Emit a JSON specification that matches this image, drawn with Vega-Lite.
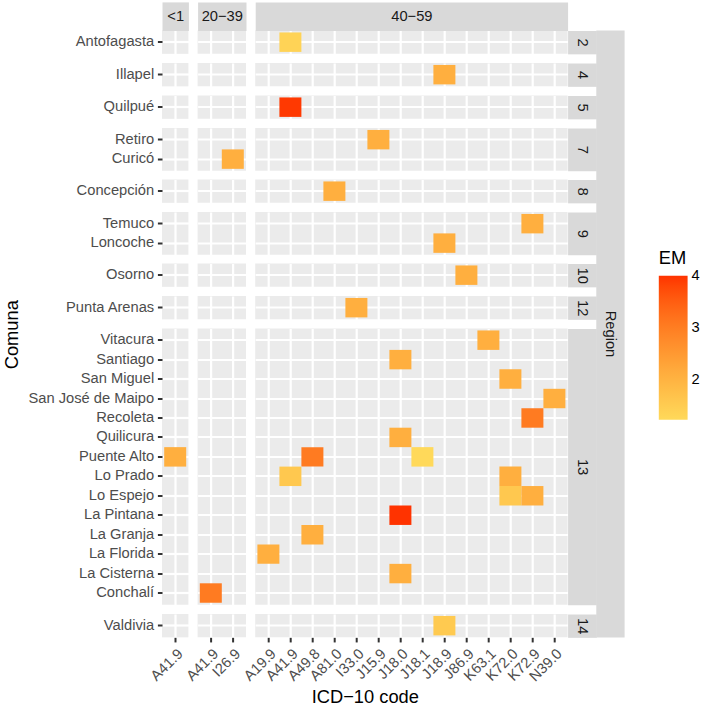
{
  "$schema": "https://vega.github.io/schema/vega-lite/v6.json",
  "padding": {"left": 2, "top": 7.5, "right": 5, "bottom": 0},
  "data": {"values": [
    {"Region": "2", "Age": "40−59", "Comuna": "Antofagasta", "Code": "A41.9", "EM": 1.38},
    {"Region": "4", "Age": "40−59", "Comuna": "Illapel", "Code": "J18.9", "EM": 2.1},
    {"Region": "5", "Age": "40−59", "Comuna": "Quilpué", "Code": "A41.9", "EM": 3.95},
    {"Region": "7", "Age": "40−59", "Comuna": "Retiro", "Code": "J15.9", "EM": 2.1},
    {"Region": "7", "Age": "20−39", "Comuna": "Curicó", "Code": "I26.9", "EM": 2.1},
    {"Region": "8", "Age": "40−59", "Comuna": "Concepción", "Code": "A81.0", "EM": 2.1},
    {"Region": "9", "Age": "40−59", "Comuna": "Temuco", "Code": "K72.9", "EM": 2.1},
    {"Region": "9", "Age": "40−59", "Comuna": "Loncoche", "Code": "J18.9", "EM": 2.1},
    {"Region": "10", "Age": "40−59", "Comuna": "Osorno", "Code": "J86.9", "EM": 2.1},
    {"Region": "12", "Age": "40−59", "Comuna": "Punta Arenas", "Code": "I33.0", "EM": 2.1},
    {"Region": "13", "Age": "40−59", "Comuna": "Vitacura", "Code": "K63.1", "EM": 2.1},
    {"Region": "13", "Age": "40−59", "Comuna": "Santiago", "Code": "J18.0", "EM": 2.1},
    {"Region": "13", "Age": "40−59", "Comuna": "San Miguel", "Code": "K72.0", "EM": 2.1},
    {"Region": "13", "Age": "40−59", "Comuna": "San José de Maipo", "Code": "N39.0", "EM": 2.1},
    {"Region": "13", "Age": "40−59", "Comuna": "Recoleta", "Code": "K72.9", "EM": 3.05},
    {"Region": "13", "Age": "40−59", "Comuna": "Quilicura", "Code": "J18.0", "EM": 2.1},
    {"Region": "13", "Age": "<1", "Comuna": "Puente Alto", "Code": "A41.9", "EM": 2.1},
    {"Region": "13", "Age": "40−59", "Comuna": "Puente Alto", "Code": "A49.8", "EM": 3.05},
    {"Region": "13", "Age": "40−59", "Comuna": "Puente Alto", "Code": "J18.1", "EM": 1.25},
    {"Region": "13", "Age": "40−59", "Comuna": "Lo Prado", "Code": "A41.9", "EM": 1.6},
    {"Region": "13", "Age": "40−59", "Comuna": "Lo Prado", "Code": "K72.0", "EM": 2.1},
    {"Region": "13", "Age": "40−59", "Comuna": "Lo Espejo", "Code": "K72.0", "EM": 1.6},
    {"Region": "13", "Age": "40−59", "Comuna": "Lo Espejo", "Code": "K72.9", "EM": 2.1},
    {"Region": "13", "Age": "40−59", "Comuna": "La Pintana", "Code": "J18.0", "EM": 4.0},
    {"Region": "13", "Age": "40−59", "Comuna": "La Granja", "Code": "A49.8", "EM": 2.1},
    {"Region": "13", "Age": "40−59", "Comuna": "La Florida", "Code": "A19.9", "EM": 2.1},
    {"Region": "13", "Age": "40−59", "Comuna": "La Cisterna", "Code": "J18.0", "EM": 2.1},
    {"Region": "13", "Age": "20−39", "Comuna": "Conchalí", "Code": "A41.9", "EM": 3.05},
    {"Region": "14", "Age": "40−59", "Comuna": "Valdivia", "Code": "J18.9", "EM": 1.55}
  ]},
  "config": {
    "font": "Liberation Sans",
    "view": {"fill": "#EBEBEB", "stroke": null},
    "axis": {"zindex": 0, "gridColor": "#FFFFFF", "gridWidth": 2.2, "gridOpacity": 1, "bandPosition": 0.5, "labelFont": "Liberation Sans", "labelFontSize": 14.7, "labelColor": "#4D4D4D", "labelPadding": 3.7, "tickSize": 4.6, "tickWidth": 2, "tickColor": "#333333", "titleFont": "Liberation Sans", "titleFontWeight": "normal"}
  },
  "spacing": 6.3,
  "hconcat": [
    {
      "bounds": "flush",
      "columns": 3,
      "align": "each",
      "spacing": {"row": 8.5, "column": 8.6},
      "concat": [
        {"transform": [{"filter": {"and": [{"field": "Region", "equal": "2"}, {"field": "Age", "equal": "<1"}]}}], "width": {"step": 22}, "height": {"step": 19.45}, "mark": "rect",
         "encoding": {"x": {"field": "Code", "type": "nominal", "scale": {"domain": ["A41.9"], "paddingInner": 0, "paddingOuter": 0.1}, "axis": {"zindex": 0, "orient": "top", "grid": true, "labels": false, "ticks": false, "domain": true, "domainColor": "#D9D9D9", "domainWidth": 28.6, "offset": 14.3, "title": "<1", "titleFontSize": 14.7, "titleColor": "#1A1A1A", "titleBaseline": "middle", "titlePadding": 0, "minExtent": 0, "maxExtent": 0}},
          "y": {"field": "Comuna", "type": "nominal", "scale": {"domain": ["Antofagasta"], "paddingInner": 0, "paddingOuter": 0.1}, "axis": {"zindex": 0, "orient": "left", "grid": true, "labels": true, "ticks": true, "domain": false, "title": null}},
          "color": {"field": "EM", "type": "quantitative", "scale": {"range": ["#FFD95A", "#FF3300"], "interpolate": "lab", "zero": false, "nice": false}, "legend": {"orient": "none", "legendX": 496.8, "legendY": 219.9, "direction": "vertical", "gradientLength": 144, "gradientThickness": 28.8, "gradientStrokeWidth": 0, "values": [2, 3, 4], "title": "EM", "titleFontSize": 18.3, "titleFontWeight": "normal", "titleColor": "#000000", "titlePadding": 7, "labelFontSize": 14.7, "labelColor": "#000000", "labelOffset": 4, "padding": 0, "encode": {"labels": {"update": {"baseline": {"value": "middle"}}}}}}}},
        {"transform": [{"filter": {"and": [{"field": "Region", "equal": "2"}, {"field": "Age", "equal": "20−39"}]}}], "width": {"step": 22}, "height": {"step": 19.45}, "mark": "rect",
         "encoding": {"x": {"field": "Code", "type": "nominal", "scale": {"domain": ["A41.9", "I26.9"], "paddingInner": 0, "paddingOuter": 0.1}, "axis": {"zindex": 0, "orient": "top", "grid": true, "labels": false, "ticks": false, "domain": true, "domainColor": "#D9D9D9", "domainWidth": 28.6, "offset": 14.3, "title": "20−39", "titleFontSize": 14.7, "titleColor": "#1A1A1A", "titleBaseline": "middle", "titlePadding": 0, "minExtent": 0, "maxExtent": 0}},
          "y": {"field": "Comuna", "type": "nominal", "scale": {"domain": ["Antofagasta"], "paddingInner": 0, "paddingOuter": 0.1}, "axis": {"zindex": 0, "grid": true, "labels": false, "ticks": false, "domain": false, "title": null}},
          "color": {"field": "EM", "type": "quantitative", "scale": {"range": ["#FFD95A", "#FF3300"], "interpolate": "lab", "zero": false, "nice": false}, "legend": {"orient": "none", "legendX": 496.8, "legendY": 219.9, "direction": "vertical", "gradientLength": 144, "gradientThickness": 28.8, "gradientStrokeWidth": 0, "values": [2, 3, 4], "title": "EM", "titleFontSize": 18.3, "titleFontWeight": "normal", "titleColor": "#000000", "titlePadding": 7, "labelFontSize": 14.7, "labelColor": "#000000", "labelOffset": 4, "padding": 0, "encode": {"labels": {"update": {"baseline": {"value": "middle"}}}}}}}},
        {"transform": [{"filter": {"and": [{"field": "Region", "equal": "2"}, {"field": "Age", "equal": "40−59"}]}}], "width": {"step": 22}, "height": {"step": 19.45}, "mark": "rect",
         "encoding": {"x": {"field": "Code", "type": "nominal", "scale": {"domain": ["A19.9", "A41.9", "A49.8", "A81.0", "I33.0", "J15.9", "J18.0", "J18.1", "J18.9", "J86.9", "K63.1", "K72.0", "K72.9", "N39.0"], "paddingInner": 0, "paddingOuter": 0.1}, "axis": {"zindex": 0, "orient": "top", "grid": true, "labels": false, "ticks": false, "domain": true, "domainColor": "#D9D9D9", "domainWidth": 28.6, "offset": 14.3, "title": "40−59", "titleFontSize": 14.7, "titleColor": "#1A1A1A", "titleBaseline": "middle", "titlePadding": 0, "minExtent": 0, "maxExtent": 0}},
          "y": {"field": "Comuna", "type": "nominal", "scale": {"domain": ["Antofagasta"], "paddingInner": 0, "paddingOuter": 0.1}, "axis": {"zindex": 0, "orient": "right", "grid": true, "labels": false, "ticks": false, "domain": true, "domainColor": "#D9D9D9", "domainWidth": 28.7, "offset": 14.35, "title": "2", "titleAngle": 90, "titleFontSize": 14.7, "titleColor": "#1A1A1A", "titleBaseline": "middle", "titleAlign": "center", "titlePadding": 0, "minExtent": 0, "maxExtent": 0}},
          "color": {"field": "EM", "type": "quantitative", "scale": {"range": ["#FFD95A", "#FF3300"], "interpolate": "lab", "zero": false, "nice": false}, "legend": {"orient": "none", "legendX": 496.8, "legendY": 219.9, "direction": "vertical", "gradientLength": 144, "gradientThickness": 28.8, "gradientStrokeWidth": 0, "values": [2, 3, 4], "title": "EM", "titleFontSize": 18.3, "titleFontWeight": "normal", "titleColor": "#000000", "titlePadding": 7, "labelFontSize": 14.7, "labelColor": "#000000", "labelOffset": 4, "padding": 0, "encode": {"labels": {"update": {"baseline": {"value": "middle"}}}}}}}},

        {"transform": [{"filter": {"and": [{"field": "Region", "equal": "4"}, {"field": "Age", "equal": "<1"}]}}], "width": {"step": 22}, "height": {"step": 19.45}, "mark": "rect",
         "encoding": {"x": {"field": "Code", "type": "nominal", "scale": {"domain": ["A41.9"], "paddingInner": 0, "paddingOuter": 0.1}, "axis": {"zindex": 0, "grid": true, "labels": false, "ticks": false, "domain": false, "title": null}},
          "y": {"field": "Comuna", "type": "nominal", "scale": {"domain": ["Illapel"], "paddingInner": 0, "paddingOuter": 0.1}, "axis": {"zindex": 0, "orient": "left", "grid": true, "labels": true, "ticks": true, "domain": false, "title": null}},
          "color": {"field": "EM", "type": "quantitative", "scale": {"range": ["#FFD95A", "#FF3300"], "interpolate": "lab", "zero": false, "nice": false}, "legend": {"orient": "none", "legendX": 496.8, "legendY": 219.9, "direction": "vertical", "gradientLength": 144, "gradientThickness": 28.8, "gradientStrokeWidth": 0, "values": [2, 3, 4], "title": "EM", "titleFontSize": 18.3, "titleFontWeight": "normal", "titleColor": "#000000", "titlePadding": 7, "labelFontSize": 14.7, "labelColor": "#000000", "labelOffset": 4, "padding": 0, "encode": {"labels": {"update": {"baseline": {"value": "middle"}}}}}}}},
        {"transform": [{"filter": {"and": [{"field": "Region", "equal": "4"}, {"field": "Age", "equal": "20−39"}]}}], "width": {"step": 22}, "height": {"step": 19.45}, "mark": "rect",
         "encoding": {"x": {"field": "Code", "type": "nominal", "scale": {"domain": ["A41.9", "I26.9"], "paddingInner": 0, "paddingOuter": 0.1}, "axis": {"zindex": 0, "grid": true, "labels": false, "ticks": false, "domain": false, "title": null}},
          "y": {"field": "Comuna", "type": "nominal", "scale": {"domain": ["Illapel"], "paddingInner": 0, "paddingOuter": 0.1}, "axis": {"zindex": 0, "grid": true, "labels": false, "ticks": false, "domain": false, "title": null}},
          "color": {"field": "EM", "type": "quantitative", "scale": {"range": ["#FFD95A", "#FF3300"], "interpolate": "lab", "zero": false, "nice": false}, "legend": {"orient": "none", "legendX": 496.8, "legendY": 219.9, "direction": "vertical", "gradientLength": 144, "gradientThickness": 28.8, "gradientStrokeWidth": 0, "values": [2, 3, 4], "title": "EM", "titleFontSize": 18.3, "titleFontWeight": "normal", "titleColor": "#000000", "titlePadding": 7, "labelFontSize": 14.7, "labelColor": "#000000", "labelOffset": 4, "padding": 0, "encode": {"labels": {"update": {"baseline": {"value": "middle"}}}}}}}},
        {"transform": [{"filter": {"and": [{"field": "Region", "equal": "4"}, {"field": "Age", "equal": "40−59"}]}}], "width": {"step": 22}, "height": {"step": 19.45}, "mark": "rect",
         "encoding": {"x": {"field": "Code", "type": "nominal", "scale": {"domain": ["A19.9", "A41.9", "A49.8", "A81.0", "I33.0", "J15.9", "J18.0", "J18.1", "J18.9", "J86.9", "K63.1", "K72.0", "K72.9", "N39.0"], "paddingInner": 0, "paddingOuter": 0.1}, "axis": {"zindex": 0, "grid": true, "labels": false, "ticks": false, "domain": false, "title": null}},
          "y": {"field": "Comuna", "type": "nominal", "scale": {"domain": ["Illapel"], "paddingInner": 0, "paddingOuter": 0.1}, "axis": {"zindex": 0, "orient": "right", "grid": true, "labels": false, "ticks": false, "domain": true, "domainColor": "#D9D9D9", "domainWidth": 28.7, "offset": 14.35, "title": "4", "titleAngle": 90, "titleFontSize": 14.7, "titleColor": "#1A1A1A", "titleBaseline": "middle", "titleAlign": "center", "titlePadding": 0, "minExtent": 0, "maxExtent": 0}},
          "color": {"field": "EM", "type": "quantitative", "scale": {"range": ["#FFD95A", "#FF3300"], "interpolate": "lab", "zero": false, "nice": false}, "legend": {"orient": "none", "legendX": 496.8, "legendY": 219.9, "direction": "vertical", "gradientLength": 144, "gradientThickness": 28.8, "gradientStrokeWidth": 0, "values": [2, 3, 4], "title": "EM", "titleFontSize": 18.3, "titleFontWeight": "normal", "titleColor": "#000000", "titlePadding": 7, "labelFontSize": 14.7, "labelColor": "#000000", "labelOffset": 4, "padding": 0, "encode": {"labels": {"update": {"baseline": {"value": "middle"}}}}}}}},

        {"transform": [{"filter": {"and": [{"field": "Region", "equal": "5"}, {"field": "Age", "equal": "<1"}]}}], "width": {"step": 22}, "height": {"step": 19.45}, "mark": "rect",
         "encoding": {"x": {"field": "Code", "type": "nominal", "scale": {"domain": ["A41.9"], "paddingInner": 0, "paddingOuter": 0.1}, "axis": {"zindex": 0, "grid": true, "labels": false, "ticks": false, "domain": false, "title": null}},
          "y": {"field": "Comuna", "type": "nominal", "scale": {"domain": ["Quilpué"], "paddingInner": 0, "paddingOuter": 0.1}, "axis": {"zindex": 0, "orient": "left", "grid": true, "labels": true, "ticks": true, "domain": false, "title": null}},
          "color": {"field": "EM", "type": "quantitative", "scale": {"range": ["#FFD95A", "#FF3300"], "interpolate": "lab", "zero": false, "nice": false}, "legend": {"orient": "none", "legendX": 496.8, "legendY": 219.9, "direction": "vertical", "gradientLength": 144, "gradientThickness": 28.8, "gradientStrokeWidth": 0, "values": [2, 3, 4], "title": "EM", "titleFontSize": 18.3, "titleFontWeight": "normal", "titleColor": "#000000", "titlePadding": 7, "labelFontSize": 14.7, "labelColor": "#000000", "labelOffset": 4, "padding": 0, "encode": {"labels": {"update": {"baseline": {"value": "middle"}}}}}}}},
        {"transform": [{"filter": {"and": [{"field": "Region", "equal": "5"}, {"field": "Age", "equal": "20−39"}]}}], "width": {"step": 22}, "height": {"step": 19.45}, "mark": "rect",
         "encoding": {"x": {"field": "Code", "type": "nominal", "scale": {"domain": ["A41.9", "I26.9"], "paddingInner": 0, "paddingOuter": 0.1}, "axis": {"zindex": 0, "grid": true, "labels": false, "ticks": false, "domain": false, "title": null}},
          "y": {"field": "Comuna", "type": "nominal", "scale": {"domain": ["Quilpué"], "paddingInner": 0, "paddingOuter": 0.1}, "axis": {"zindex": 0, "grid": true, "labels": false, "ticks": false, "domain": false, "title": null}},
          "color": {"field": "EM", "type": "quantitative", "scale": {"range": ["#FFD95A", "#FF3300"], "interpolate": "lab", "zero": false, "nice": false}, "legend": {"orient": "none", "legendX": 496.8, "legendY": 219.9, "direction": "vertical", "gradientLength": 144, "gradientThickness": 28.8, "gradientStrokeWidth": 0, "values": [2, 3, 4], "title": "EM", "titleFontSize": 18.3, "titleFontWeight": "normal", "titleColor": "#000000", "titlePadding": 7, "labelFontSize": 14.7, "labelColor": "#000000", "labelOffset": 4, "padding": 0, "encode": {"labels": {"update": {"baseline": {"value": "middle"}}}}}}}},
        {"transform": [{"filter": {"and": [{"field": "Region", "equal": "5"}, {"field": "Age", "equal": "40−59"}]}}], "width": {"step": 22}, "height": {"step": 19.45}, "mark": "rect",
         "encoding": {"x": {"field": "Code", "type": "nominal", "scale": {"domain": ["A19.9", "A41.9", "A49.8", "A81.0", "I33.0", "J15.9", "J18.0", "J18.1", "J18.9", "J86.9", "K63.1", "K72.0", "K72.9", "N39.0"], "paddingInner": 0, "paddingOuter": 0.1}, "axis": {"zindex": 0, "grid": true, "labels": false, "ticks": false, "domain": false, "title": null}},
          "y": {"field": "Comuna", "type": "nominal", "scale": {"domain": ["Quilpué"], "paddingInner": 0, "paddingOuter": 0.1}, "axis": {"zindex": 0, "orient": "right", "grid": true, "labels": false, "ticks": false, "domain": true, "domainColor": "#D9D9D9", "domainWidth": 28.7, "offset": 14.35, "title": "5", "titleAngle": 90, "titleFontSize": 14.7, "titleColor": "#1A1A1A", "titleBaseline": "middle", "titleAlign": "center", "titlePadding": 0, "minExtent": 0, "maxExtent": 0}},
          "color": {"field": "EM", "type": "quantitative", "scale": {"range": ["#FFD95A", "#FF3300"], "interpolate": "lab", "zero": false, "nice": false}, "legend": {"orient": "none", "legendX": 496.8, "legendY": 219.9, "direction": "vertical", "gradientLength": 144, "gradientThickness": 28.8, "gradientStrokeWidth": 0, "values": [2, 3, 4], "title": "EM", "titleFontSize": 18.3, "titleFontWeight": "normal", "titleColor": "#000000", "titlePadding": 7, "labelFontSize": 14.7, "labelColor": "#000000", "labelOffset": 4, "padding": 0, "encode": {"labels": {"update": {"baseline": {"value": "middle"}}}}}}}},

        {"transform": [{"filter": {"and": [{"field": "Region", "equal": "7"}, {"field": "Age", "equal": "<1"}]}}], "width": {"step": 22}, "height": {"step": 19.45}, "mark": "rect",
         "encoding": {"x": {"field": "Code", "type": "nominal", "scale": {"domain": ["A41.9"], "paddingInner": 0, "paddingOuter": 0.1}, "axis": {"zindex": 0, "grid": true, "labels": false, "ticks": false, "domain": false, "title": null}},
          "y": {"field": "Comuna", "type": "nominal", "scale": {"domain": ["Retiro", "Curicó"], "paddingInner": 0, "paddingOuter": 0.1}, "axis": {"zindex": 0, "orient": "left", "grid": true, "labels": true, "ticks": true, "domain": false, "title": null}},
          "color": {"field": "EM", "type": "quantitative", "scale": {"range": ["#FFD95A", "#FF3300"], "interpolate": "lab", "zero": false, "nice": false}, "legend": {"orient": "none", "legendX": 496.8, "legendY": 219.9, "direction": "vertical", "gradientLength": 144, "gradientThickness": 28.8, "gradientStrokeWidth": 0, "values": [2, 3, 4], "title": "EM", "titleFontSize": 18.3, "titleFontWeight": "normal", "titleColor": "#000000", "titlePadding": 7, "labelFontSize": 14.7, "labelColor": "#000000", "labelOffset": 4, "padding": 0, "encode": {"labels": {"update": {"baseline": {"value": "middle"}}}}}}}},
        {"transform": [{"filter": {"and": [{"field": "Region", "equal": "7"}, {"field": "Age", "equal": "20−39"}]}}], "width": {"step": 22}, "height": {"step": 19.45}, "mark": "rect",
         "encoding": {"x": {"field": "Code", "type": "nominal", "scale": {"domain": ["A41.9", "I26.9"], "paddingInner": 0, "paddingOuter": 0.1}, "axis": {"zindex": 0, "grid": true, "labels": false, "ticks": false, "domain": false, "title": null}},
          "y": {"field": "Comuna", "type": "nominal", "scale": {"domain": ["Retiro", "Curicó"], "paddingInner": 0, "paddingOuter": 0.1}, "axis": {"zindex": 0, "grid": true, "labels": false, "ticks": false, "domain": false, "title": null}},
          "color": {"field": "EM", "type": "quantitative", "scale": {"range": ["#FFD95A", "#FF3300"], "interpolate": "lab", "zero": false, "nice": false}, "legend": {"orient": "none", "legendX": 496.8, "legendY": 219.9, "direction": "vertical", "gradientLength": 144, "gradientThickness": 28.8, "gradientStrokeWidth": 0, "values": [2, 3, 4], "title": "EM", "titleFontSize": 18.3, "titleFontWeight": "normal", "titleColor": "#000000", "titlePadding": 7, "labelFontSize": 14.7, "labelColor": "#000000", "labelOffset": 4, "padding": 0, "encode": {"labels": {"update": {"baseline": {"value": "middle"}}}}}}}},
        {"transform": [{"filter": {"and": [{"field": "Region", "equal": "7"}, {"field": "Age", "equal": "40−59"}]}}], "width": {"step": 22}, "height": {"step": 19.45}, "mark": "rect",
         "encoding": {"x": {"field": "Code", "type": "nominal", "scale": {"domain": ["A19.9", "A41.9", "A49.8", "A81.0", "I33.0", "J15.9", "J18.0", "J18.1", "J18.9", "J86.9", "K63.1", "K72.0", "K72.9", "N39.0"], "paddingInner": 0, "paddingOuter": 0.1}, "axis": {"zindex": 0, "grid": true, "labels": false, "ticks": false, "domain": false, "title": null}},
          "y": {"field": "Comuna", "type": "nominal", "scale": {"domain": ["Retiro", "Curicó"], "paddingInner": 0, "paddingOuter": 0.1}, "axis": {"zindex": 0, "orient": "right", "grid": true, "labels": false, "ticks": false, "domain": true, "domainColor": "#D9D9D9", "domainWidth": 28.7, "offset": 14.35, "title": "7", "titleAngle": 90, "titleFontSize": 14.7, "titleColor": "#1A1A1A", "titleBaseline": "middle", "titleAlign": "center", "titlePadding": 0, "minExtent": 0, "maxExtent": 0}},
          "color": {"field": "EM", "type": "quantitative", "scale": {"range": ["#FFD95A", "#FF3300"], "interpolate": "lab", "zero": false, "nice": false}, "legend": {"orient": "none", "legendX": 496.8, "legendY": 219.9, "direction": "vertical", "gradientLength": 144, "gradientThickness": 28.8, "gradientStrokeWidth": 0, "values": [2, 3, 4], "title": "EM", "titleFontSize": 18.3, "titleFontWeight": "normal", "titleColor": "#000000", "titlePadding": 7, "labelFontSize": 14.7, "labelColor": "#000000", "labelOffset": 4, "padding": 0, "encode": {"labels": {"update": {"baseline": {"value": "middle"}}}}}}}},

        {"transform": [{"filter": {"and": [{"field": "Region", "equal": "8"}, {"field": "Age", "equal": "<1"}]}}], "width": {"step": 22}, "height": {"step": 19.45}, "mark": "rect",
         "encoding": {"x": {"field": "Code", "type": "nominal", "scale": {"domain": ["A41.9"], "paddingInner": 0, "paddingOuter": 0.1}, "axis": {"zindex": 0, "grid": true, "labels": false, "ticks": false, "domain": false, "title": null}},
          "y": {"field": "Comuna", "type": "nominal", "scale": {"domain": ["Concepción"], "paddingInner": 0, "paddingOuter": 0.1}, "axis": {"zindex": 0, "orient": "left", "grid": true, "labels": true, "ticks": true, "domain": false, "title": null}},
          "color": {"field": "EM", "type": "quantitative", "scale": {"range": ["#FFD95A", "#FF3300"], "interpolate": "lab", "zero": false, "nice": false}, "legend": {"orient": "none", "legendX": 496.8, "legendY": 219.9, "direction": "vertical", "gradientLength": 144, "gradientThickness": 28.8, "gradientStrokeWidth": 0, "values": [2, 3, 4], "title": "EM", "titleFontSize": 18.3, "titleFontWeight": "normal", "titleColor": "#000000", "titlePadding": 7, "labelFontSize": 14.7, "labelColor": "#000000", "labelOffset": 4, "padding": 0, "encode": {"labels": {"update": {"baseline": {"value": "middle"}}}}}}}},
        {"transform": [{"filter": {"and": [{"field": "Region", "equal": "8"}, {"field": "Age", "equal": "20−39"}]}}], "width": {"step": 22}, "height": {"step": 19.45}, "mark": "rect",
         "encoding": {"x": {"field": "Code", "type": "nominal", "scale": {"domain": ["A41.9", "I26.9"], "paddingInner": 0, "paddingOuter": 0.1}, "axis": {"zindex": 0, "grid": true, "labels": false, "ticks": false, "domain": false, "title": null}},
          "y": {"field": "Comuna", "type": "nominal", "scale": {"domain": ["Concepción"], "paddingInner": 0, "paddingOuter": 0.1}, "axis": {"zindex": 0, "grid": true, "labels": false, "ticks": false, "domain": false, "title": null}},
          "color": {"field": "EM", "type": "quantitative", "scale": {"range": ["#FFD95A", "#FF3300"], "interpolate": "lab", "zero": false, "nice": false}, "legend": {"orient": "none", "legendX": 496.8, "legendY": 219.9, "direction": "vertical", "gradientLength": 144, "gradientThickness": 28.8, "gradientStrokeWidth": 0, "values": [2, 3, 4], "title": "EM", "titleFontSize": 18.3, "titleFontWeight": "normal", "titleColor": "#000000", "titlePadding": 7, "labelFontSize": 14.7, "labelColor": "#000000", "labelOffset": 4, "padding": 0, "encode": {"labels": {"update": {"baseline": {"value": "middle"}}}}}}}},
        {"transform": [{"filter": {"and": [{"field": "Region", "equal": "8"}, {"field": "Age", "equal": "40−59"}]}}], "width": {"step": 22}, "height": {"step": 19.45}, "mark": "rect",
         "encoding": {"x": {"field": "Code", "type": "nominal", "scale": {"domain": ["A19.9", "A41.9", "A49.8", "A81.0", "I33.0", "J15.9", "J18.0", "J18.1", "J18.9", "J86.9", "K63.1", "K72.0", "K72.9", "N39.0"], "paddingInner": 0, "paddingOuter": 0.1}, "axis": {"zindex": 0, "grid": true, "labels": false, "ticks": false, "domain": false, "title": null}},
          "y": {"field": "Comuna", "type": "nominal", "scale": {"domain": ["Concepción"], "paddingInner": 0, "paddingOuter": 0.1}, "axis": {"zindex": 0, "orient": "right", "grid": true, "labels": false, "ticks": false, "domain": true, "domainColor": "#D9D9D9", "domainWidth": 28.7, "offset": 14.35, "title": "8", "titleAngle": 90, "titleFontSize": 14.7, "titleColor": "#1A1A1A", "titleBaseline": "middle", "titleAlign": "center", "titlePadding": 0, "minExtent": 0, "maxExtent": 0}},
          "color": {"field": "EM", "type": "quantitative", "scale": {"range": ["#FFD95A", "#FF3300"], "interpolate": "lab", "zero": false, "nice": false}, "legend": {"orient": "none", "legendX": 496.8, "legendY": 219.9, "direction": "vertical", "gradientLength": 144, "gradientThickness": 28.8, "gradientStrokeWidth": 0, "values": [2, 3, 4], "title": "EM", "titleFontSize": 18.3, "titleFontWeight": "normal", "titleColor": "#000000", "titlePadding": 7, "labelFontSize": 14.7, "labelColor": "#000000", "labelOffset": 4, "padding": 0, "encode": {"labels": {"update": {"baseline": {"value": "middle"}}}}}}}},

        {"transform": [{"filter": {"and": [{"field": "Region", "equal": "9"}, {"field": "Age", "equal": "<1"}]}}], "width": {"step": 22}, "height": {"step": 19.45}, "mark": "rect",
         "encoding": {"x": {"field": "Code", "type": "nominal", "scale": {"domain": ["A41.9"], "paddingInner": 0, "paddingOuter": 0.1}, "axis": {"zindex": 0, "grid": true, "labels": false, "ticks": false, "domain": false, "title": null}},
          "y": {"field": "Comuna", "type": "nominal", "scale": {"domain": ["Temuco", "Loncoche"], "paddingInner": 0, "paddingOuter": 0.1}, "axis": {"zindex": 0, "orient": "left", "grid": true, "labels": true, "ticks": true, "domain": false, "title": null}},
          "color": {"field": "EM", "type": "quantitative", "scale": {"range": ["#FFD95A", "#FF3300"], "interpolate": "lab", "zero": false, "nice": false}, "legend": {"orient": "none", "legendX": 496.8, "legendY": 219.9, "direction": "vertical", "gradientLength": 144, "gradientThickness": 28.8, "gradientStrokeWidth": 0, "values": [2, 3, 4], "title": "EM", "titleFontSize": 18.3, "titleFontWeight": "normal", "titleColor": "#000000", "titlePadding": 7, "labelFontSize": 14.7, "labelColor": "#000000", "labelOffset": 4, "padding": 0, "encode": {"labels": {"update": {"baseline": {"value": "middle"}}}}}}}},
        {"transform": [{"filter": {"and": [{"field": "Region", "equal": "9"}, {"field": "Age", "equal": "20−39"}]}}], "width": {"step": 22}, "height": {"step": 19.45}, "mark": "rect",
         "encoding": {"x": {"field": "Code", "type": "nominal", "scale": {"domain": ["A41.9", "I26.9"], "paddingInner": 0, "paddingOuter": 0.1}, "axis": {"zindex": 0, "grid": true, "labels": false, "ticks": false, "domain": false, "title": null}},
          "y": {"field": "Comuna", "type": "nominal", "scale": {"domain": ["Temuco", "Loncoche"], "paddingInner": 0, "paddingOuter": 0.1}, "axis": {"zindex": 0, "grid": true, "labels": false, "ticks": false, "domain": false, "title": null}},
          "color": {"field": "EM", "type": "quantitative", "scale": {"range": ["#FFD95A", "#FF3300"], "interpolate": "lab", "zero": false, "nice": false}, "legend": {"orient": "none", "legendX": 496.8, "legendY": 219.9, "direction": "vertical", "gradientLength": 144, "gradientThickness": 28.8, "gradientStrokeWidth": 0, "values": [2, 3, 4], "title": "EM", "titleFontSize": 18.3, "titleFontWeight": "normal", "titleColor": "#000000", "titlePadding": 7, "labelFontSize": 14.7, "labelColor": "#000000", "labelOffset": 4, "padding": 0, "encode": {"labels": {"update": {"baseline": {"value": "middle"}}}}}}}},
        {"transform": [{"filter": {"and": [{"field": "Region", "equal": "9"}, {"field": "Age", "equal": "40−59"}]}}], "width": {"step": 22}, "height": {"step": 19.45}, "mark": "rect",
         "encoding": {"x": {"field": "Code", "type": "nominal", "scale": {"domain": ["A19.9", "A41.9", "A49.8", "A81.0", "I33.0", "J15.9", "J18.0", "J18.1", "J18.9", "J86.9", "K63.1", "K72.0", "K72.9", "N39.0"], "paddingInner": 0, "paddingOuter": 0.1}, "axis": {"zindex": 0, "grid": true, "labels": false, "ticks": false, "domain": false, "title": null}},
          "y": {"field": "Comuna", "type": "nominal", "scale": {"domain": ["Temuco", "Loncoche"], "paddingInner": 0, "paddingOuter": 0.1}, "axis": {"zindex": 0, "orient": "right", "grid": true, "labels": false, "ticks": false, "domain": true, "domainColor": "#D9D9D9", "domainWidth": 28.7, "offset": 14.35, "title": "9", "titleAngle": 90, "titleFontSize": 14.7, "titleColor": "#1A1A1A", "titleBaseline": "middle", "titleAlign": "center", "titlePadding": 0, "minExtent": 0, "maxExtent": 0}},
          "color": {"field": "EM", "type": "quantitative", "scale": {"range": ["#FFD95A", "#FF3300"], "interpolate": "lab", "zero": false, "nice": false}, "legend": {"orient": "none", "legendX": 496.8, "legendY": 219.9, "direction": "vertical", "gradientLength": 144, "gradientThickness": 28.8, "gradientStrokeWidth": 0, "values": [2, 3, 4], "title": "EM", "titleFontSize": 18.3, "titleFontWeight": "normal", "titleColor": "#000000", "titlePadding": 7, "labelFontSize": 14.7, "labelColor": "#000000", "labelOffset": 4, "padding": 0, "encode": {"labels": {"update": {"baseline": {"value": "middle"}}}}}}}},

        {"transform": [{"filter": {"and": [{"field": "Region", "equal": "10"}, {"field": "Age", "equal": "<1"}]}}], "width": {"step": 22}, "height": {"step": 19.45}, "mark": "rect",
         "encoding": {"x": {"field": "Code", "type": "nominal", "scale": {"domain": ["A41.9"], "paddingInner": 0, "paddingOuter": 0.1}, "axis": {"zindex": 0, "grid": true, "labels": false, "ticks": false, "domain": false, "title": null}},
          "y": {"field": "Comuna", "type": "nominal", "scale": {"domain": ["Osorno"], "paddingInner": 0, "paddingOuter": 0.1}, "axis": {"zindex": 0, "orient": "left", "grid": true, "labels": true, "ticks": true, "domain": false, "title": null}},
          "color": {"field": "EM", "type": "quantitative", "scale": {"range": ["#FFD95A", "#FF3300"], "interpolate": "lab", "zero": false, "nice": false}, "legend": {"orient": "none", "legendX": 496.8, "legendY": 219.9, "direction": "vertical", "gradientLength": 144, "gradientThickness": 28.8, "gradientStrokeWidth": 0, "values": [2, 3, 4], "title": "EM", "titleFontSize": 18.3, "titleFontWeight": "normal", "titleColor": "#000000", "titlePadding": 7, "labelFontSize": 14.7, "labelColor": "#000000", "labelOffset": 4, "padding": 0, "encode": {"labels": {"update": {"baseline": {"value": "middle"}}}}}}}},
        {"transform": [{"filter": {"and": [{"field": "Region", "equal": "10"}, {"field": "Age", "equal": "20−39"}]}}], "width": {"step": 22}, "height": {"step": 19.45}, "mark": "rect",
         "encoding": {"x": {"field": "Code", "type": "nominal", "scale": {"domain": ["A41.9", "I26.9"], "paddingInner": 0, "paddingOuter": 0.1}, "axis": {"zindex": 0, "grid": true, "labels": false, "ticks": false, "domain": false, "title": null}},
          "y": {"field": "Comuna", "type": "nominal", "scale": {"domain": ["Osorno"], "paddingInner": 0, "paddingOuter": 0.1}, "axis": {"zindex": 0, "grid": true, "labels": false, "ticks": false, "domain": false, "title": null}},
          "color": {"field": "EM", "type": "quantitative", "scale": {"range": ["#FFD95A", "#FF3300"], "interpolate": "lab", "zero": false, "nice": false}, "legend": {"orient": "none", "legendX": 496.8, "legendY": 219.9, "direction": "vertical", "gradientLength": 144, "gradientThickness": 28.8, "gradientStrokeWidth": 0, "values": [2, 3, 4], "title": "EM", "titleFontSize": 18.3, "titleFontWeight": "normal", "titleColor": "#000000", "titlePadding": 7, "labelFontSize": 14.7, "labelColor": "#000000", "labelOffset": 4, "padding": 0, "encode": {"labels": {"update": {"baseline": {"value": "middle"}}}}}}}},
        {"transform": [{"filter": {"and": [{"field": "Region", "equal": "10"}, {"field": "Age", "equal": "40−59"}]}}], "width": {"step": 22}, "height": {"step": 19.45}, "mark": "rect",
         "encoding": {"x": {"field": "Code", "type": "nominal", "scale": {"domain": ["A19.9", "A41.9", "A49.8", "A81.0", "I33.0", "J15.9", "J18.0", "J18.1", "J18.9", "J86.9", "K63.1", "K72.0", "K72.9", "N39.0"], "paddingInner": 0, "paddingOuter": 0.1}, "axis": {"zindex": 0, "grid": true, "labels": false, "ticks": false, "domain": false, "title": null}},
          "y": {"field": "Comuna", "type": "nominal", "scale": {"domain": ["Osorno"], "paddingInner": 0, "paddingOuter": 0.1}, "axis": {"zindex": 0, "orient": "right", "grid": true, "labels": false, "ticks": false, "domain": true, "domainColor": "#D9D9D9", "domainWidth": 28.7, "offset": 14.35, "title": "10", "titleAngle": 90, "titleFontSize": 14.7, "titleColor": "#1A1A1A", "titleBaseline": "middle", "titleAlign": "center", "titlePadding": 0, "minExtent": 0, "maxExtent": 0}},
          "color": {"field": "EM", "type": "quantitative", "scale": {"range": ["#FFD95A", "#FF3300"], "interpolate": "lab", "zero": false, "nice": false}, "legend": {"orient": "none", "legendX": 496.8, "legendY": 219.9, "direction": "vertical", "gradientLength": 144, "gradientThickness": 28.8, "gradientStrokeWidth": 0, "values": [2, 3, 4], "title": "EM", "titleFontSize": 18.3, "titleFontWeight": "normal", "titleColor": "#000000", "titlePadding": 7, "labelFontSize": 14.7, "labelColor": "#000000", "labelOffset": 4, "padding": 0, "encode": {"labels": {"update": {"baseline": {"value": "middle"}}}}}}}},

        {"transform": [{"filter": {"and": [{"field": "Region", "equal": "12"}, {"field": "Age", "equal": "<1"}]}}], "width": {"step": 22}, "height": {"step": 19.45}, "mark": "rect",
         "encoding": {"x": {"field": "Code", "type": "nominal", "scale": {"domain": ["A41.9"], "paddingInner": 0, "paddingOuter": 0.1}, "axis": {"zindex": 0, "grid": true, "labels": false, "ticks": false, "domain": false, "title": null}},
          "y": {"field": "Comuna", "type": "nominal", "scale": {"domain": ["Punta Arenas"], "paddingInner": 0, "paddingOuter": 0.1}, "axis": {"zindex": 0, "orient": "left", "grid": true, "labels": true, "ticks": true, "domain": false, "title": null}},
          "color": {"field": "EM", "type": "quantitative", "scale": {"range": ["#FFD95A", "#FF3300"], "interpolate": "lab", "zero": false, "nice": false}, "legend": {"orient": "none", "legendX": 496.8, "legendY": 219.9, "direction": "vertical", "gradientLength": 144, "gradientThickness": 28.8, "gradientStrokeWidth": 0, "values": [2, 3, 4], "title": "EM", "titleFontSize": 18.3, "titleFontWeight": "normal", "titleColor": "#000000", "titlePadding": 7, "labelFontSize": 14.7, "labelColor": "#000000", "labelOffset": 4, "padding": 0, "encode": {"labels": {"update": {"baseline": {"value": "middle"}}}}}}}},
        {"transform": [{"filter": {"and": [{"field": "Region", "equal": "12"}, {"field": "Age", "equal": "20−39"}]}}], "width": {"step": 22}, "height": {"step": 19.45}, "mark": "rect",
         "encoding": {"x": {"field": "Code", "type": "nominal", "scale": {"domain": ["A41.9", "I26.9"], "paddingInner": 0, "paddingOuter": 0.1}, "axis": {"zindex": 0, "grid": true, "labels": false, "ticks": false, "domain": false, "title": null}},
          "y": {"field": "Comuna", "type": "nominal", "scale": {"domain": ["Punta Arenas"], "paddingInner": 0, "paddingOuter": 0.1}, "axis": {"zindex": 0, "grid": true, "labels": false, "ticks": false, "domain": false, "title": null}},
          "color": {"field": "EM", "type": "quantitative", "scale": {"range": ["#FFD95A", "#FF3300"], "interpolate": "lab", "zero": false, "nice": false}, "legend": {"orient": "none", "legendX": 496.8, "legendY": 219.9, "direction": "vertical", "gradientLength": 144, "gradientThickness": 28.8, "gradientStrokeWidth": 0, "values": [2, 3, 4], "title": "EM", "titleFontSize": 18.3, "titleFontWeight": "normal", "titleColor": "#000000", "titlePadding": 7, "labelFontSize": 14.7, "labelColor": "#000000", "labelOffset": 4, "padding": 0, "encode": {"labels": {"update": {"baseline": {"value": "middle"}}}}}}}},
        {"transform": [{"filter": {"and": [{"field": "Region", "equal": "12"}, {"field": "Age", "equal": "40−59"}]}}], "width": {"step": 22}, "height": {"step": 19.45}, "mark": "rect",
         "encoding": {"x": {"field": "Code", "type": "nominal", "scale": {"domain": ["A19.9", "A41.9", "A49.8", "A81.0", "I33.0", "J15.9", "J18.0", "J18.1", "J18.9", "J86.9", "K63.1", "K72.0", "K72.9", "N39.0"], "paddingInner": 0, "paddingOuter": 0.1}, "axis": {"zindex": 0, "grid": true, "labels": false, "ticks": false, "domain": false, "title": null}},
          "y": {"field": "Comuna", "type": "nominal", "scale": {"domain": ["Punta Arenas"], "paddingInner": 0, "paddingOuter": 0.1}, "axis": {"zindex": 0, "orient": "right", "grid": true, "labels": false, "ticks": false, "domain": true, "domainColor": "#D9D9D9", "domainWidth": 28.7, "offset": 14.35, "title": "12", "titleAngle": 90, "titleFontSize": 14.7, "titleColor": "#1A1A1A", "titleBaseline": "middle", "titleAlign": "center", "titlePadding": 0, "minExtent": 0, "maxExtent": 0}},
          "color": {"field": "EM", "type": "quantitative", "scale": {"range": ["#FFD95A", "#FF3300"], "interpolate": "lab", "zero": false, "nice": false}, "legend": {"orient": "none", "legendX": 496.8, "legendY": 219.9, "direction": "vertical", "gradientLength": 144, "gradientThickness": 28.8, "gradientStrokeWidth": 0, "values": [2, 3, 4], "title": "EM", "titleFontSize": 18.3, "titleFontWeight": "normal", "titleColor": "#000000", "titlePadding": 7, "labelFontSize": 14.7, "labelColor": "#000000", "labelOffset": 4, "padding": 0, "encode": {"labels": {"update": {"baseline": {"value": "middle"}}}}}}}},

        {"transform": [{"filter": {"and": [{"field": "Region", "equal": "13"}, {"field": "Age", "equal": "<1"}]}}], "width": {"step": 22}, "height": {"step": 19.45}, "mark": "rect",
         "encoding": {"x": {"field": "Code", "type": "nominal", "scale": {"domain": ["A41.9"], "paddingInner": 0, "paddingOuter": 0.1}, "axis": {"zindex": 0, "grid": true, "labels": false, "ticks": false, "domain": false, "title": null}},
          "y": {"field": "Comuna", "type": "nominal", "scale": {"domain": ["Vitacura", "Santiago", "San Miguel", "San José de Maipo", "Recoleta", "Quilicura", "Puente Alto", "Lo Prado", "Lo Espejo", "La Pintana", "La Granja", "La Florida", "La Cisterna", "Conchalí"], "paddingInner": 0, "paddingOuter": 0.1}, "axis": {"zindex": 0, "orient": "left", "grid": true, "labels": true, "ticks": true, "domain": false, "title": "Comuna", "titleFontSize": 18.3, "titleColor": "#000000", "titleAngle": 270, "titleAlign": "center", "titleBaseline": "alphabetic", "titleX": -144.4, "titleY": 5.7}},
          "color": {"field": "EM", "type": "quantitative", "scale": {"range": ["#FFD95A", "#FF3300"], "interpolate": "lab", "zero": false, "nice": false}, "legend": {"orient": "none", "legendX": 496.8, "legendY": 219.9, "direction": "vertical", "gradientLength": 144, "gradientThickness": 28.8, "gradientStrokeWidth": 0, "values": [2, 3, 4], "title": "EM", "titleFontSize": 18.3, "titleFontWeight": "normal", "titleColor": "#000000", "titlePadding": 7, "labelFontSize": 14.7, "labelColor": "#000000", "labelOffset": 4, "padding": 0, "encode": {"labels": {"update": {"baseline": {"value": "middle"}}}}}}}},
        {"transform": [{"filter": {"and": [{"field": "Region", "equal": "13"}, {"field": "Age", "equal": "20−39"}]}}], "width": {"step": 22}, "height": {"step": 19.45}, "mark": "rect",
         "encoding": {"x": {"field": "Code", "type": "nominal", "scale": {"domain": ["A41.9", "I26.9"], "paddingInner": 0, "paddingOuter": 0.1}, "axis": {"zindex": 0, "grid": true, "labels": false, "ticks": false, "domain": false, "title": null}},
          "y": {"field": "Comuna", "type": "nominal", "scale": {"domain": ["Vitacura", "Santiago", "San Miguel", "San José de Maipo", "Recoleta", "Quilicura", "Puente Alto", "Lo Prado", "Lo Espejo", "La Pintana", "La Granja", "La Florida", "La Cisterna", "Conchalí"], "paddingInner": 0, "paddingOuter": 0.1}, "axis": {"zindex": 0, "grid": true, "labels": false, "ticks": false, "domain": false, "title": null}},
          "color": {"field": "EM", "type": "quantitative", "scale": {"range": ["#FFD95A", "#FF3300"], "interpolate": "lab", "zero": false, "nice": false}, "legend": {"orient": "none", "legendX": 496.8, "legendY": 219.9, "direction": "vertical", "gradientLength": 144, "gradientThickness": 28.8, "gradientStrokeWidth": 0, "values": [2, 3, 4], "title": "EM", "titleFontSize": 18.3, "titleFontWeight": "normal", "titleColor": "#000000", "titlePadding": 7, "labelFontSize": 14.7, "labelColor": "#000000", "labelOffset": 4, "padding": 0, "encode": {"labels": {"update": {"baseline": {"value": "middle"}}}}}}}},
        {"transform": [{"filter": {"and": [{"field": "Region", "equal": "13"}, {"field": "Age", "equal": "40−59"}]}}], "width": {"step": 22}, "height": {"step": 19.45}, "mark": "rect",
         "encoding": {"x": {"field": "Code", "type": "nominal", "scale": {"domain": ["A19.9", "A41.9", "A49.8", "A81.0", "I33.0", "J15.9", "J18.0", "J18.1", "J18.9", "J86.9", "K63.1", "K72.0", "K72.9", "N39.0"], "paddingInner": 0, "paddingOuter": 0.1}, "axis": {"zindex": 0, "grid": true, "labels": false, "ticks": false, "domain": false, "title": null}},
          "y": {"field": "Comuna", "type": "nominal", "scale": {"domain": ["Vitacura", "Santiago", "San Miguel", "San José de Maipo", "Recoleta", "Quilicura", "Puente Alto", "Lo Prado", "Lo Espejo", "La Pintana", "La Granja", "La Florida", "La Cisterna", "Conchalí"], "paddingInner": 0, "paddingOuter": 0.1}, "axis": {"zindex": 0, "orient": "right", "grid": true, "labels": false, "ticks": false, "domain": true, "domainColor": "#D9D9D9", "domainWidth": 28.7, "offset": 14.35, "title": "13", "titleAngle": 90, "titleFontSize": 14.7, "titleColor": "#1A1A1A", "titleBaseline": "middle", "titleAlign": "center", "titlePadding": 0, "minExtent": 0, "maxExtent": 0}},
          "color": {"field": "EM", "type": "quantitative", "scale": {"range": ["#FFD95A", "#FF3300"], "interpolate": "lab", "zero": false, "nice": false}, "legend": {"orient": "none", "legendX": 496.8, "legendY": 219.9, "direction": "vertical", "gradientLength": 144, "gradientThickness": 28.8, "gradientStrokeWidth": 0, "values": [2, 3, 4], "title": "EM", "titleFontSize": 18.3, "titleFontWeight": "normal", "titleColor": "#000000", "titlePadding": 7, "labelFontSize": 14.7, "labelColor": "#000000", "labelOffset": 4, "padding": 0, "encode": {"labels": {"update": {"baseline": {"value": "middle"}}}}}}}},

        {"transform": [{"filter": {"and": [{"field": "Region", "equal": "14"}, {"field": "Age", "equal": "<1"}]}}], "width": {"step": 22}, "height": {"step": 19.45}, "mark": "rect",
         "encoding": {"x": {"field": "Code", "type": "nominal", "scale": {"domain": ["A41.9"], "paddingInner": 0, "paddingOuter": 0.1}, "axis": {"zindex": 0, "orient": "bottom", "grid": true, "labels": true, "ticks": true, "domain": false, "labelAngle": -45, "labelAlign": "right", "labelBaseline": "top", "labelOverlap": false, "title": null}},
          "y": {"field": "Comuna", "type": "nominal", "scale": {"domain": ["Valdivia"], "paddingInner": 0, "paddingOuter": 0.1}, "axis": {"zindex": 0, "orient": "left", "grid": true, "labels": true, "ticks": true, "domain": false, "title": null}},
          "color": {"field": "EM", "type": "quantitative", "scale": {"range": ["#FFD95A", "#FF3300"], "interpolate": "lab", "zero": false, "nice": false}, "legend": {"orient": "none", "legendX": 496.8, "legendY": 219.9, "direction": "vertical", "gradientLength": 144, "gradientThickness": 28.8, "gradientStrokeWidth": 0, "values": [2, 3, 4], "title": "EM", "titleFontSize": 18.3, "titleFontWeight": "normal", "titleColor": "#000000", "titlePadding": 7, "labelFontSize": 14.7, "labelColor": "#000000", "labelOffset": 4, "padding": 0, "encode": {"labels": {"update": {"baseline": {"value": "middle"}}}}}}}},
        {"transform": [{"filter": {"and": [{"field": "Region", "equal": "14"}, {"field": "Age", "equal": "20−39"}]}}], "width": {"step": 22}, "height": {"step": 19.45}, "mark": "rect",
         "encoding": {"x": {"field": "Code", "type": "nominal", "scale": {"domain": ["A41.9", "I26.9"], "paddingInner": 0, "paddingOuter": 0.1}, "axis": {"zindex": 0, "orient": "bottom", "grid": true, "labels": true, "ticks": true, "domain": false, "labelAngle": -45, "labelAlign": "right", "labelBaseline": "top", "labelOverlap": false, "title": null}},
          "y": {"field": "Comuna", "type": "nominal", "scale": {"domain": ["Valdivia"], "paddingInner": 0, "paddingOuter": 0.1}, "axis": {"zindex": 0, "grid": true, "labels": false, "ticks": false, "domain": false, "title": null}},
          "color": {"field": "EM", "type": "quantitative", "scale": {"range": ["#FFD95A", "#FF3300"], "interpolate": "lab", "zero": false, "nice": false}, "legend": {"orient": "none", "legendX": 496.8, "legendY": 219.9, "direction": "vertical", "gradientLength": 144, "gradientThickness": 28.8, "gradientStrokeWidth": 0, "values": [2, 3, 4], "title": "EM", "titleFontSize": 18.3, "titleFontWeight": "normal", "titleColor": "#000000", "titlePadding": 7, "labelFontSize": 14.7, "labelColor": "#000000", "labelOffset": 4, "padding": 0, "encode": {"labels": {"update": {"baseline": {"value": "middle"}}}}}}}},
        {"transform": [{"filter": {"and": [{"field": "Region", "equal": "14"}, {"field": "Age", "equal": "40−59"}]}}], "width": {"step": 22}, "height": {"step": 19.45}, "mark": "rect",
         "encoding": {"x": {"field": "Code", "type": "nominal", "scale": {"domain": ["A19.9", "A41.9", "A49.8", "A81.0", "I33.0", "J15.9", "J18.0", "J18.1", "J18.9", "J86.9", "K63.1", "K72.0", "K72.9", "N39.0"], "paddingInner": 0, "paddingOuter": 0.1}, "axis": {"zindex": 0, "orient": "bottom", "grid": true, "labels": true, "ticks": true, "domain": false, "labelAngle": -45, "labelAlign": "right", "labelBaseline": "top", "labelOverlap": false, "title": "ICD−10 code", "titleFontSize": 18.3, "titleColor": "#000000", "titleAlign": "center", "titleBaseline": "alphabetic", "titleX": 109.6, "titleY": 65.5}},
          "y": {"field": "Comuna", "type": "nominal", "scale": {"domain": ["Valdivia"], "paddingInner": 0, "paddingOuter": 0.1}, "axis": {"zindex": 0, "orient": "right", "grid": true, "labels": false, "ticks": false, "domain": true, "domainColor": "#D9D9D9", "domainWidth": 28.7, "offset": 14.35, "title": "14", "titleAngle": 90, "titleFontSize": 14.7, "titleColor": "#1A1A1A", "titleBaseline": "middle", "titleAlign": "center", "titlePadding": 0, "minExtent": 0, "maxExtent": 0}},
          "color": {"field": "EM", "type": "quantitative", "scale": {"range": ["#FFD95A", "#FF3300"], "interpolate": "lab", "zero": false, "nice": false}, "legend": {"orient": "none", "legendX": 496.8, "legendY": 219.9, "direction": "vertical", "gradientLength": 144, "gradientThickness": 28.8, "gradientStrokeWidth": 0, "values": [2, 3, 4], "title": "EM", "titleFontSize": 18.3, "titleFontWeight": "normal", "titleColor": "#000000", "titlePadding": 7, "labelFontSize": 14.7, "labelColor": "#000000", "labelOffset": 4, "padding": 0, "encode": {"labels": {"update": {"baseline": {"value": "middle"}}}}}}}}
      ]
    },
    {
      "width": 28.3,
      "height": 607,
      "view": {"fill": "#D9D9D9", "stroke": null},
      "data": {"values": [{"label": "Region"}]},
      "mark": {"type": "text", "angle": 90, "fontSize": 14.7, "color": "#1A1A1A", "font": "Liberation Sans"},
      "encoding": {"text": {"field": "label", "type": "nominal"}}
    }
  ]
}
